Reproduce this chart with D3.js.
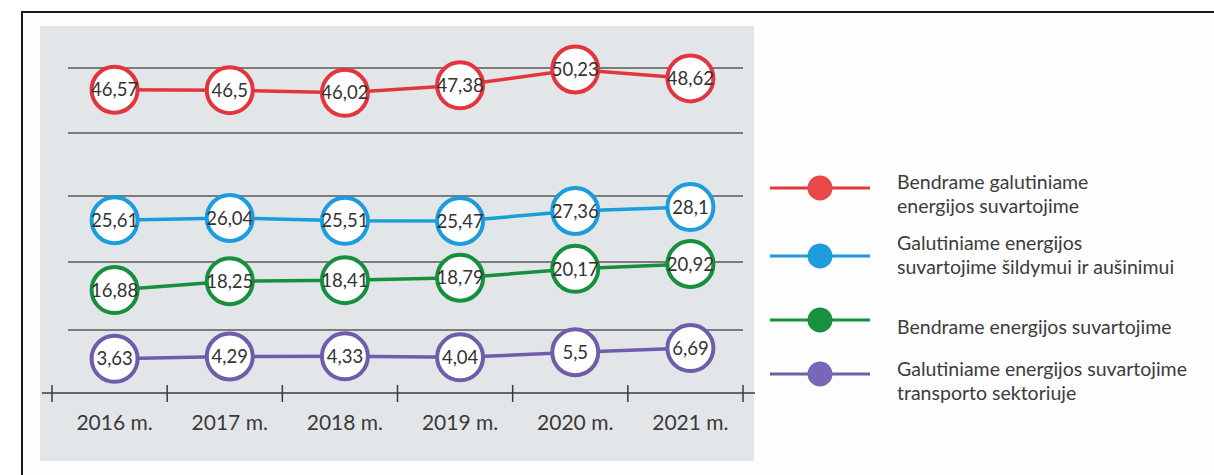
<!DOCTYPE html>
<html>
<head>
<meta charset="utf-8">
<script src="https://cdn.jsdelivr.net/npm/d3@7"></script>
<style>
  html, body { margin: 0; padding: 0; background: #ffffff; }
  svg { display: block; }
  text { font-family: Lato, "Open Sans", "DejaVu Sans", sans-serif; }
</style>
</head>
<body>
<svg id="chart" width="1214" height="475"></svg>
<script>
// ---- data ----
const years = ["2016 m.", "2017 m.", "2018 m.", "2019 m.", "2020 m.", "2021 m."];
const totalFinal = [46.57, 46.5, 46.02, 47.38, 50.23, 48.62];
const heatingCooling = [25.61, 26.04, 25.51, 25.47, 27.36, 28.1];
const totalConsumption = [16.88, 18.25, 18.41, 18.79, 20.17, 20.92];
const transport = [3.63, 4.29, 4.33, 4.04, 5.5, 6.69];
const seriesLabels = [
  ["Bendrame galutiniame", "energijos suvartojime"],
  ["Galutiniame energijos", "suvartojime šildymui ir aušinimui"],
  ["Bendrame energijos suvartojime"],
  ["Galutiniame energijos suvartojime", "transporto sektoriuje"]
];
const gridValues = [50.5, 44, 29, 21.5, 8];

// ---- layout / style ----
const colors = ["#e2363e", "#1b9cdc", "#17903d", "#6f5cab"];
const dotColors = ["#e84848", "#1e9ce0", "#179040", "#7866b8"];
const seriesData = [totalFinal, heatingCooling, totalConsumption, transport];

const svg = d3.select("#chart");

// outer frame (clipped at right / bottom as in the reference)
svg.append("rect").attr("x", 22).attr("y", 12).attr("width", 1220).attr("height", 480)
  .attr("fill", "#fdfdfd").attr("stroke", "#1a1a1a").attr("stroke-width", 2);

// grey panel
svg.append("rect").attr("x", 40).attr("y", 26).attr("width", 714).attr("height", 435)
  .attr("fill", "#e3e6e8");

// scales
const x = d3.scaleBand().domain(years).range([52, 743]).paddingInner(0).paddingOuter(0);
const xc = d => x(d) + x.bandwidth() / 2 + 5;

// broken (polylinear) value scale: each series sits in its own band
const y = d3.scaleLinear()
  .domain([0, 3, 7, 8, 16.5, 21, 21.5, 25, 28.5, 29, 44, 45.5, 50.5])
  .range([393, 361, 347, 330, 292.5, 263.5, 262, 223.5, 205, 196, 133, 95.7, 68]);

// gridlines
svg.append("g").selectAll("line").data(gridValues).join("line")
  .attr("x1", 68).attr("x2", 743)
  .attr("y1", d => y(d)).attr("y2", d => y(d))
  .attr("stroke", "#7a7c7e").attr("stroke-width", 2);

// x axis: line, ticks at band boundaries, labels
const axisY = y(0);
svg.append("line").attr("x1", 42).attr("x2", 755).attr("y1", axisY).attr("y2", axisY)
  .attr("stroke", "#3a3a3a").attr("stroke-width", 1.5);
const boundaries = years.map(d => x(d)).concat([x.range()[1]]);
svg.append("g").selectAll("line").data(boundaries).join("line")
  .attr("x1", d => d).attr("x2", d => d)
  .attr("y1", axisY - 8).attr("y2", axisY + 9)
  .attr("stroke", "#3a3a3a").attr("stroke-width", 1.5);
svg.append("g").selectAll("text").data(years).join("text")
  .attr("x", d => xc(d)).attr("y", axisY + 37)
  .attr("text-anchor", "middle").attr("font-size", 21).attr("fill", "#3a3a3a")
  .text(d => d);

// series
const fmt = v => String(v).replace(".", ",");
const line = d3.line().x((d, i) => xc(years[i])).y(d => y(d));

seriesData.forEach((vals, s) => {
  const g = svg.append("g");
  g.append("path").datum(vals).attr("d", line)
    .attr("fill", "none").attr("stroke", colors[s]).attr("stroke-width", 3.5);
  const pts = g.selectAll("g.pt").data(vals).join("g").attr("class", "pt")
    .attr("transform", (d, i) => `translate(${xc(years[i])},${y(d)})`);
  pts.append("circle").attr("r", 23).attr("fill", "#ffffff")
    .attr("stroke", colors[s]).attr("stroke-width", 4);
  pts.append("text").attr("text-anchor", "middle").attr("dy", "0.36em")
    .attr("font-size", 18.5).attr("fill", "#333333")
    .text(d => fmt(d));
});

// legend
const legendDotY = [188, 256, 320, 374];
const legendFirstBaseline = [189, 250, 334, 376];
const legendLineGap = 24;
seriesLabels.forEach((lines, s) => {
  const g = svg.append("g");
  g.append("line").attr("x1", 770).attr("x2", 870)
    .attr("y1", legendDotY[s]).attr("y2", legendDotY[s])
    .attr("stroke", colors[s]).attr("stroke-width", 3);
  g.append("circle").attr("cx", 820).attr("cy", legendDotY[s]).attr("r", 12.5)
    .attr("fill", dotColors[s]);
  const t = g.append("text").attr("x", 897).attr("y", legendFirstBaseline[s])
    .attr("font-size", 19.5).attr("fill", "#3c3c3c");
  lines.forEach((str, k) => {
    t.append("tspan").attr("x", 897).attr("dy", k === 0 ? 0 : legendLineGap).text(str);
  });
});
</script>
</body>
</html>
